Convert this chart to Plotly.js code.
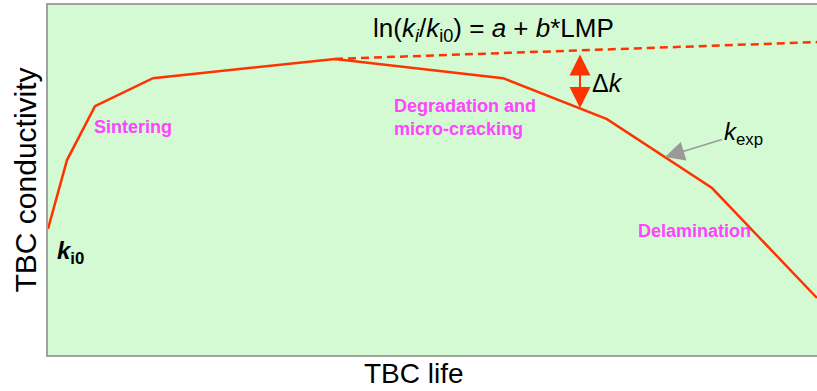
<!DOCTYPE html>
<html><head><meta charset="utf-8">
<script src="https://cdn.plot.ly/plotly-3.0.1.min.js"></script>
<style>html,body{margin:0;padding:0;background:#fff}#chart{width:817px;height:391px}</style>
</head><body><div id="chart"></div>
<script>
// Schematic TBC conductivity vs life (arbitrary units 0-100)
const lifeExp = [0, 2.47, 6.11, 13.65, 37.32, 59.17, 72.69, 86.35, 100];
const kExp    = [36.0, 55.7, 71.1, 79.1, 84.6, 79.1, 67.4, 47.7, 16.3];
const lifeModel = [37.32, 100];
const kModel    = [84.6, 89.4];

const labelText = ["Sintering", "Degradation and<br>micro-cracking", "Delamination"];
const labelX = [11.05, 44.73, 84.07];
const labelY = [65.1, 67.9, 35.4];

const ff = "Arial, 'Liberation Sans', sans-serif";
const red = "#ff3300";
const magenta = "#ff44ff";

const traces = [
  {x: lifeExp, y: kExp, mode: "lines", line: {color: red, width: 2.5}, hoverinfo: "skip", showlegend: false},
  {x: lifeModel, y: kModel, mode: "lines", line: {color: red, width: 2.5, dash: "8px,5px"}, hoverinfo: "skip", showlegend: false}
];

const ann = [];
labelText.forEach((t, i) => ann.push({
  x: labelX[i], y: labelY[i], xref: "x", yref: "y", text: "<b>" + t + "</b>",
  showarrow: false, align: "left", xanchor: i === 1 ? "left" : "center", yanchor: "middle",
  font: {family: ff, size: 18, color: magenta}
}));
// equation
ann.push({x: 57.93, y: 93.0, xref: "x", yref: "y", showarrow: false, xanchor: "center", yanchor: "middle",
  text: "ln(<i>k<sub>i</sub></i>/<i>k</i><sub>i0</sub>) = <i>a</i> + <i>b</i>*LMP",
  font: {family: ff, size: 26, color: "#000"}});
// delta k double arrow
ann.push({x: 69.18, y: 70.6, ax: 69.18, ay: 86.3, xref: "x", yref: "y", axref: "x", ayref: "y",
  text: "", showarrow: true, arrowside: "end+start", arrowhead: 2, startarrowhead: 2,
  arrowsize: 2.1, startarrowsize: 2.1, arrowwidth: 2, arrowcolor: red});
ann.push({x: 70.48, y: 77.7, xref: "x", yref: "y", showarrow: false, xanchor: "left", yanchor: "middle",
  text: "\u0394<i>k</i>", font: {family: ff, size: 25, color: "#000"}});
// k_exp with arrow
ann.push({x: 80.23, y: 56.6, ax: 90.38, ay: 63.4, xref: "x", yref: "y", axref: "x", ayref: "y",
  text: "<i>k</i><sub>exp</sub>", showarrow: true, arrowhead: 2, arrowsize: 2.6, arrowwidth: 1.5,
  arrowcolor: "#999999", font: {family: ff, size: 24, color: "#000"}});
// k_i0
ann.push({x: 0.91, y: 29.4, xref: "x", yref: "y", showarrow: false, xanchor: "left", yanchor: "middle",
  text: "<b><i>k</i><sub>i0</sub></b>", font: {family: ff, size: 24, color: "#000"}});
// axis titles
ann.push({x: 0.4753, y: -0.1028, xref: "paper", yref: "paper", showarrow: false, xanchor: "center", yanchor: "bottom",
  text: "TBC life", font: {family: ff, size: 28, color: "#000"}});
ann.push({x: -0.0293, y: 0.5, xref: "paper", yref: "paper", showarrow: false, xanchor: "center", yanchor: "middle",
  textangle: -90, text: "TBC conductivity", font: {family: ff, size: 30, color: "#000"}});

const layout = {
  width: 817, height: 391,
  margin: {l: 48, r: 0, t: 5, b: 36},
  paper_bgcolor: "#ffffff", plot_bgcolor: "#d4fad4",
  xaxis: {range: [0, 100], showgrid: false, zeroline: false, showticklabels: false, ticks: "",
    showline: true, linecolor: "#a0a0a0", linewidth: 2, mirror: true, fixedrange: true},
  yaxis: {range: [0, 100], showgrid: false, zeroline: false, showticklabels: false, ticks: "",
    showline: true, linecolor: "#a0a0a0", linewidth: 2, fixedrange: true},
  annotations: ann,
  showlegend: false
};
Plotly.newPlot("chart", traces, layout, {displayModeBar: false, staticPlot: true});
</script></body></html>
